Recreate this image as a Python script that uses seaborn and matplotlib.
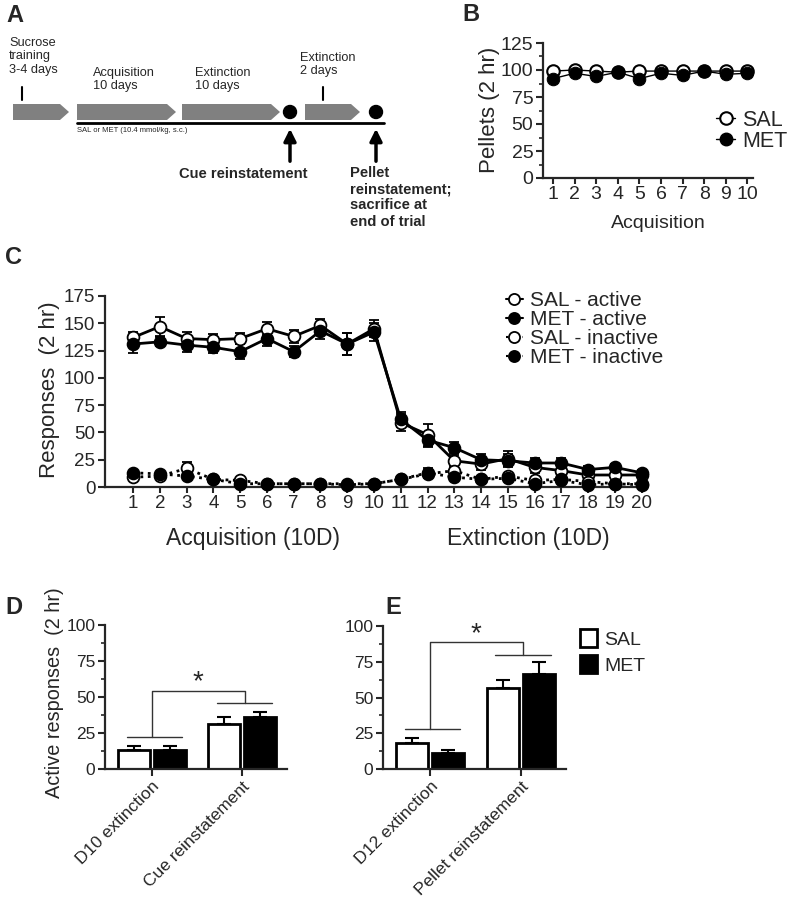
import numpy as np
import pandas as pd
import matplotlib
matplotlib.use('Agg')
import matplotlib.pyplot as plt
import seaborn as sns
from matplotlib.lines import Line2D
from matplotlib.patches import Patch, Polygon, Circle
from matplotlib.ticker import AutoMinorLocator

# ---- data ----
# panel B: pellets during acquisition
days_b = list(range(1, 11))
sal_pellets = [99, 100, 99, 98, 99, 99, 99, 99, 99, 99]
met_pellets = [92, 97, 94, 98, 92, 97, 95, 99, 96, 97]

# panel C: responses over 20 days
days_c = list(range(1, 21))
sal_active = [137, 147, 136, 135, 136, 145, 138, 148, 131, 145,
              59, 48, 24, 21, 26, 18, 15, 11, 11, 11]
sal_active_err = [5, 9, 6, 5, 5, 6, 6, 6, 10, 8,
                  8, 10, 5, 5, 7, 5, 4, 3, 3, 3]
met_active = [131, 133, 130, 128, 124, 136, 124, 143, 131, 142,
              62, 43, 36, 25, 24, 22, 22, 16, 18, 13]
met_active_err = [8, 4, 6, 5, 7, 7, 5, 7, 10, 8,
                  7, 6, 5, 5, 6, 5, 5, 3, 3, 3]
sal_inactive = [9, 10, 17, 7, 6, 3, 3, 3, 3, 3,
                7, 12, 15, 7, 10, 6, 7, 5, 3, 3]
sal_inactive_err = [2, 2, 6, 1, 1, 1, 1, 1, 1, 1,
                    1, 4, 2, 1, 2, 1, 1, 1, 1, 1]
met_inactive = [13, 12, 10, 7, 3, 3, 3, 3, 2, 3,
                7, 13, 9, 7, 8, 3, 6, 2, 3, 2]
met_inactive_err = [2, 2, 2, 1, 1, 1, 1, 1, 1, 1,
                    1, 4, 2, 1, 2, 1, 1, 1, 1, 1]

# panel D / E: bars
groups = ['SAL', 'MET']
d_conds = ['D10 extinction', 'Cue reinstatement']
d_sal = [13, 31.5]
d_sal_err = [3, 4.5]
d_met = [13, 36]
d_met_err = [3, 3.5]
e_conds = ['D12 extinction', 'Pellet reinstatement']
e_sal = [18.5, 56.5]
e_sal_err = [3.5, 6]
e_met = [11, 66.5]
e_met_err = [2, 8.5]

sns.set_style('ticks')
plt.rcParams['font.family'] = ['Liberation Sans', 'DejaVu Sans']
plt.rcParams['axes.linewidth'] = 1.6

W, H = 792, 900
fig = plt.figure(figsize=(W / 100, H / 100), dpi=100)

bg = fig.add_axes([0, 0, 1, 1])
bg.set_xlim(0, W)
bg.set_ylim(H, 0)
bg.axis('off')


def ax_px(left, top, right, bottom):
    return fig.add_axes([left / W, 1 - bottom / H, (right - left) / W, (bottom - top) / H])


def style_ax(ax, fs):
    sns.despine(ax=ax)
    ax.tick_params(direction='out', length=5, width=1.5, labelsize=fs, pad=2)
    ax.tick_params(which='minor', direction='out', length=3, width=1.2)


# ---- panel letters ----
for letter, (x, y) in {'A': (6, 4), 'B': (462, 3), 'C': (5, 246), 'D': (5, 596), 'E': (385, 596)}.items():
    bg.text(x, y, letter, fontsize=17, fontweight='bold', ha='left', va='top')

# ---- panel A: schematic ----
def chevron(x0, x1, yc, h=16, tip=9):
    pts = [(x0, yc - h / 2), (x1 - tip, yc - h / 2), (x1, yc), (x1 - tip, yc + h / 2), (x0, yc + h / 2)]
    bg.add_patch(Polygon(pts, closed=True, color='#808080', lw=0))

chevron(13, 69, 112)
chevron(77, 176, 112)
chevron(182, 280, 112)
chevron(305, 360, 112)
bg.add_patch(Circle((290, 112), 6.5, color='black'))
bg.add_patch(Circle((376, 112), 6.5, color='black'))
bg.plot([77, 384], [123, 123], color='black', lw=2)
bg.plot([22, 22], [87, 100], color='black', lw=1.5)
bg.plot([323, 323], [87, 100], color='black', lw=1.5)
bg.text(9, 37, 'Sucrose\ntraining\n3-4 days', fontsize=9.2, va='top', ha='left', linespacing=1.15)
bg.text(93, 67, 'Acquisition\n10 days', fontsize=9.2, va='top', ha='left', linespacing=1.15)
bg.text(195, 67, 'Extinction\n10 days', fontsize=9.2, va='top', ha='left', linespacing=1.15)
bg.text(300, 52, 'Extinction\n2 days', fontsize=9.2, va='top', ha='left', linespacing=1.15)
bg.text(77, 131, 'SAL or MET (10.4 mmol/kg, s.c.)', fontsize=5.5, va='center', ha='left')
for xa in (290, 376):
    bg.annotate('', xy=(xa, 126), xytext=(xa, 164),
                arrowprops=dict(arrowstyle='-|>', lw=2.5, color='black', mutation_scale=18))
bg.text(243, 174, 'Cue reinstatement', fontsize=10.6, fontweight='bold', ha='center', va='center')
bg.text(350, 166, 'Pellet\nreinstatement;\nsacrifice at\nend of trial', fontsize=10.6,
        fontweight='bold', ha='left', va='top', linespacing=1.2)

# ---- panel B ----
axb = ax_px(543, 43, 753, 178)
sns.lineplot(x=days_b, y=sal_pellets, ax=axb, color='black', lw=1, marker='o', markersize=9,
             markerfacecolor='white', markeredgecolor='black', markeredgewidth=1.5, clip_on=False, zorder=3)
sns.lineplot(x=days_b, y=met_pellets, ax=axb, color='black', lw=1, marker='o', markersize=9,
             markerfacecolor='black', markeredgecolor='black', clip_on=False, zorder=4)
axb.set_xlim(0.54, 10.26)
axb.set_ylim(0, 125)
axb.set_xticks(days_b)
axb.set_yticks([0, 25, 50, 75, 100, 125])
axb.yaxis.set_minor_locator(AutoMinorLocator(2))
style_ax(axb, 14)
axb.tick_params(axis='x', length=4)
bg.text(658, 224, 'Acquisition', fontsize=14, ha='center', va='center')
bg.text(490, 110, 'Pellets (2 hr)', fontsize=16, ha='center', va='center', rotation=90)
hb = [Line2D([], [], color='black', lw=1, marker='o', markersize=9, mfc='white', mec='black', mew=1.5),
      Line2D([], [], color='black', lw=1, marker='o', markersize=9, mfc='black', mec='black')]
axb.legend(hb, ['SAL', 'MET'], loc='center left', bbox_to_anchor=(716 / W, 1 - 131 / H),
           bbox_transform=fig.transFigure, frameon=False, fontsize=15.5, handlelength=0.9,
           handletextpad=0.3, labelspacing=0.0, borderpad=0, borderaxespad=0)

# ---- panel C ----
axc = ax_px(105, 296, 647, 487)
series = [
    (sal_active, sal_active_err, '-', 'white', 3),
    (met_active, met_active_err, '-', 'black', 4),
    (sal_inactive, sal_inactive_err, ':', 'white', 3),
    (met_inactive, met_inactive_err, ':', 'black', 4),
]
for vals, errs, ls, fc, z in series:
    axc.errorbar(days_c, vals, yerr=errs, fmt='none', ecolor='black', elinewidth=1.3,
                 capsize=3.6, capthick=1.3, zorder=2)
    sns.lineplot(x=days_c, y=vals, ax=axc, color='black', lw=2, linestyle=ls, marker='o',
                 markersize=8.5, markerfacecolor=fc, markeredgecolor='black', markeredgewidth=1.3,
                 clip_on=False, zorder=z)
axc.set_xlim(-0.05, 20.2)
axc.set_ylim(0, 175)
axc.set_xticks(days_c)
axc.set_yticks([0, 25, 50, 75, 100, 125, 150, 175])
style_ax(axc, 13.5)
axc.tick_params(axis='x', length=4)
bg.text(253, 538, 'Acquisition (10D)', fontsize=16.5, ha='center', va='center')
bg.text(528, 538, 'Extinction (10D)', fontsize=16.5, ha='center', va='center')
bg.text(50, 390, 'Responses  (2 hr)', fontsize=16, ha='center', va='center', rotation=90)
hc = [Line2D([], [], color='black', lw=1.5, ls=ls, marker='o', markersize=8, mfc=fc, mec='black', mew=1.3)
      for _, _, ls, fc, _ in series]
axc.legend(hc, ['SAL - active', 'MET - active', 'SAL - inactive', 'MET - inactive'],
           loc='center left', bbox_to_anchor=(506 / W, 1 - 329 / H), bbox_transform=fig.transFigure,
           frameon=False, fontsize=15, handlelength=0.8, handletextpad=0.35, labelspacing=0.0,
           borderpad=0, borderaxespad=0)


# ---- panels D / E ----
def bar_panel(ax, conds, sal, sal_err, met, met_err, lo_line, hi_line, top, star_y):
    df = pd.DataFrame({'cond': conds * 2, 'group': ['SAL'] * 2 + ['MET'] * 2, 'val': sal + met})
    sns.barplot(data=df, x='cond', y='val', hue='group', order=conds, hue_order=groups,
                palette={'SAL': 'white', 'MET': 'black'}, edgecolor='black', linewidth=2,
                errorbar=None, width=0.8, gap=0.12, legend=False, ax=ax)
    for cont, errs in zip(ax.containers, [sal_err, met_err]):
        for bar, e in zip(cont, errs):
            xc = bar.get_x() + bar.get_width() / 2
            ax.errorbar([xc], [bar.get_height()], yerr=[[0], [e]], fmt='none', ecolor='black',
                        elinewidth=1.5, capsize=5, capthick=1.5, zorder=1)
    lc = '#333333'
    ax.plot([-0.28, 0.33], [lo_line, lo_line], color=lc, lw=1, clip_on=False)
    ax.plot([0.72, 1.33], [hi_line, hi_line], color=lc, lw=1, clip_on=False)
    ax.plot([0, 0, 1.03, 1.03], [lo_line, top, top, hi_line], color=lc, lw=1, clip_on=False)
    ax.text(0.51, star_y, '*', fontsize=20, ha='center', va='center')
    ax.set_xlim(-0.52, 1.5)
    ax.set_ylim(0, 100)
    ax.set_yticks([0, 25, 50, 75, 100])
    ax.yaxis.set_minor_locator(AutoMinorLocator(2))
    ax.set_xlabel('')
    ax.set_ylabel('')
    style_ax(ax, 12.5)
    ax.set_xticks([0, 1])
    ax.set_xticklabels(conds, rotation=45, ha='right', rotation_mode='anchor', fontsize=12.5)


axd = ax_px(105, 625, 287, 769)
bar_panel(axd, d_conds, d_sal, d_sal_err, d_met, d_met_err, 22, 46, 54, 60)
bg.text(55, 693, 'Active responses  (2 hr)', fontsize=14.3, ha='center', va='center', rotation=90)

axe = ax_px(383, 626, 566, 769)
bar_panel(axe, e_conds, e_sal, e_sal_err, e_met, e_met_err, 28, 80, 88.5, 94)
he = [Patch(facecolor='white', edgecolor='black', lw=2), Patch(facecolor='black', edgecolor='black', lw=2)]
axe.legend(he, groups, loc='center left', bbox_to_anchor=(580 / W, 1 - 652 / H),
           bbox_transform=fig.transFigure, frameon=False, fontsize=14, handlelength=0.85,
           handleheight=1.0, handletextpad=0.4, labelspacing=0.35, borderpad=0, borderaxespad=0)

fig.savefig('out.png', dpi=100)
